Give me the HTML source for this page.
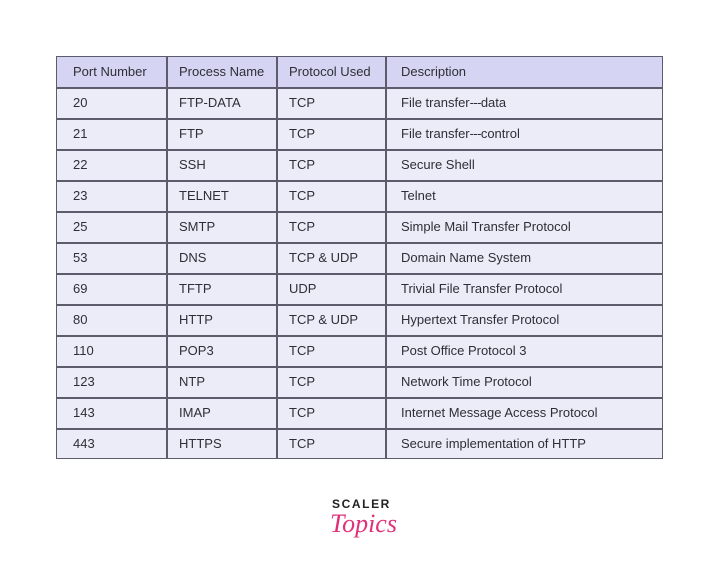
<!DOCTYPE html>
<html><head><meta charset="utf-8">
<style>
html,body{margin:0;padding:0;background:#fff;}
body{width:720px;height:586px;position:relative;overflow:hidden;font-family:"Liberation Sans",sans-serif;}
.tbl{position:absolute;left:56px;top:56px;width:607px;height:403px;border:1.5px solid #5c5c6c;box-sizing:border-box;background:#ececf8;}
.hdr{position:absolute;left:0;top:0;width:100%;height:31px;background:#d5d5f3;}
.hl{position:absolute;left:0;width:100%;height:1.5px;background:#5c5c6c;}
.vl{position:absolute;top:0;height:100%;width:1.5px;background:#5c5c6c;}
.t{position:absolute;font-size:13px;color:#2e2e36;white-space:nowrap;line-height:15px;}
.d{letter-spacing:-0.6px;}
.logo1{position:absolute;left:332px;top:497px;font-size:12px;font-weight:bold;letter-spacing:1.6px;color:#222;}
.logo2{position:absolute;left:330px;top:509px;font-size:26px;font-style:italic;color:#e0307a;font-family:"Liberation Serif",serif;}
</style></head>
<body>
<div class="tbl">
<div class="hdr"></div>
<div class="hl" style="top:30px"></div>
<div class="hl" style="top:61px"></div>
<div class="hl" style="top:92px"></div>
<div class="hl" style="top:123px"></div>
<div class="hl" style="top:154px"></div>
<div class="hl" style="top:185px"></div>
<div class="hl" style="top:216px"></div>
<div class="hl" style="top:247px"></div>
<div class="hl" style="top:278px"></div>
<div class="hl" style="top:309px"></div>
<div class="hl" style="top:340px"></div>
<div class="hl" style="top:371px"></div>
<div class="vl" style="left:109px"></div>
<div class="vl" style="left:219px"></div>
<div class="vl" style="left:328px"></div>
</div>
<div class="t" style="left:73px;top:64px">Port Number</div><div class="t" style="left:179px;top:64px">Process Name</div><div class="t" style="left:289px;top:64px">Protocol Used</div><div class="t" style="left:401px;top:64px">Description</div>
<div class="t" style="left:73px;top:95px">20</div><div class="t" style="left:179px;top:95px">FTP-DATA</div><div class="t" style="left:289px;top:95px">TCP</div><div class="t" style="left:401px;top:95px">File transfer<span class="d">---</span>data</div>
<div class="t" style="left:73px;top:126px">21</div><div class="t" style="left:179px;top:126px">FTP</div><div class="t" style="left:289px;top:126px">TCP</div><div class="t" style="left:401px;top:126px">File transfer<span class="d">---</span>control</div>
<div class="t" style="left:73px;top:157px">22</div><div class="t" style="left:179px;top:157px">SSH</div><div class="t" style="left:289px;top:157px">TCP</div><div class="t" style="left:401px;top:157px">Secure Shell</div>
<div class="t" style="left:73px;top:188px">23</div><div class="t" style="left:179px;top:188px">TELNET</div><div class="t" style="left:289px;top:188px">TCP</div><div class="t" style="left:401px;top:188px">Telnet</div>
<div class="t" style="left:73px;top:219px">25</div><div class="t" style="left:179px;top:219px">SMTP</div><div class="t" style="left:289px;top:219px">TCP</div><div class="t" style="left:401px;top:219px">Simple Mail Transfer Protocol</div>
<div class="t" style="left:73px;top:250px">53</div><div class="t" style="left:179px;top:250px">DNS</div><div class="t" style="left:289px;top:250px">TCP &amp; UDP</div><div class="t" style="left:401px;top:250px">Domain Name System</div>
<div class="t" style="left:73px;top:281px">69</div><div class="t" style="left:179px;top:281px">TFTP</div><div class="t" style="left:289px;top:281px">UDP</div><div class="t" style="left:401px;top:281px">Trivial File Transfer Protocol</div>
<div class="t" style="left:73px;top:312px">80</div><div class="t" style="left:179px;top:312px">HTTP</div><div class="t" style="left:289px;top:312px">TCP &amp; UDP</div><div class="t" style="left:401px;top:312px">Hypertext Transfer Protocol</div>
<div class="t" style="left:73px;top:343px">110</div><div class="t" style="left:179px;top:343px">POP3</div><div class="t" style="left:289px;top:343px">TCP</div><div class="t" style="left:401px;top:343px">Post Office Protocol 3</div>
<div class="t" style="left:73px;top:374px">123</div><div class="t" style="left:179px;top:374px">NTP</div><div class="t" style="left:289px;top:374px">TCP</div><div class="t" style="left:401px;top:374px">Network Time Protocol</div>
<div class="t" style="left:73px;top:405px">143</div><div class="t" style="left:179px;top:405px">IMAP</div><div class="t" style="left:289px;top:405px">TCP</div><div class="t" style="left:401px;top:405px">Internet Message Access Protocol</div>
<div class="t" style="left:73px;top:436px">443</div><div class="t" style="left:179px;top:436px">HTTPS</div><div class="t" style="left:289px;top:436px">TCP</div><div class="t" style="left:401px;top:436px">Secure implementation of HTTP</div>
<div class="logo1">SCALER</div>
<div class="logo2">Topics</div>
</body></html>
